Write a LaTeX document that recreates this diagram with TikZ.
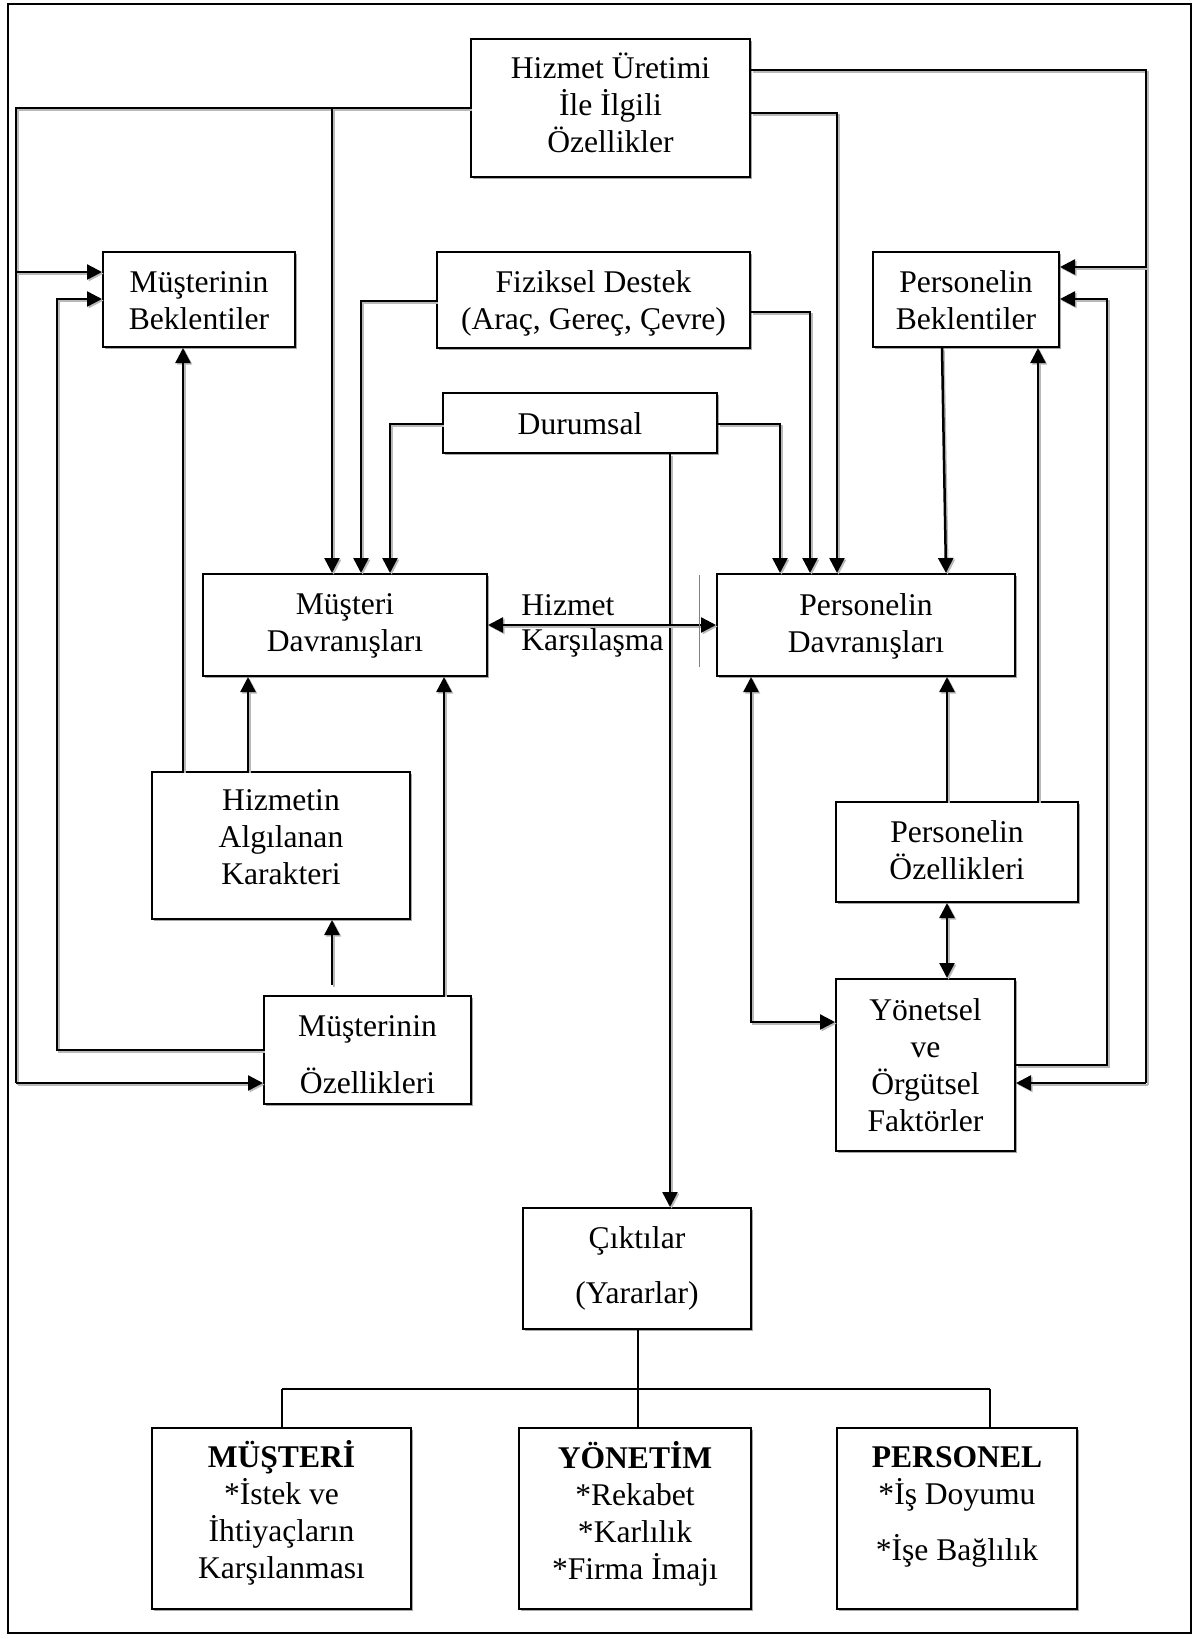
\documentclass[tikz,border=0pt]{standalone}
\usepackage{fontspec}
\setmainfont{Liberation Serif}
\usetikzlibrary{arrows.meta,fit,shadows}
\newcommand{\boxfont}{\fontsize{15.8pt}{18.5pt}\selectfont}

\begin{document}
\begin{tikzpicture}[x=0.5pt,y=-0.5pt,
  box/.style={draw, line width=1pt, fill=white, inner sep=0pt,
    drop shadow={shadow xshift=0.9pt, shadow yshift=-0.9pt, fill=gray!70, opacity=1}},
  txt/.style={inner sep=0pt, align=center, font=\boxfont},
  wire/.style={line width=1.25pt,
    preaction={draw=gray!55, line width=1.1pt, transform canvas={xshift=0.8pt,yshift=-0.8pt}}},
  arr/.style={wire, -{Triangle[length=7.5pt,width=7.5pt]}},
  arrr/.style={wire, {Triangle[length=7.5pt,width=7.5pt]}-{Triangle[length=7.5pt,width=7.5pt]}},
  tree/.style={line width=0.9pt},
  treev/.style={line width=0.7pt},
  lab/.style={inner sep=0pt, align=left, font=\fontsize{15.8pt}{17.5pt}\selectfont},
]
\useasboundingbox (0,0) rectangle (1202,1639);
\draw[line width=0.75pt] (8,4) rectangle (1191,1633);

% boxes
\node[box, fit={(471,39) (750,177)}] (hiz) {};
\node[box, fit={(103,252) (295,347)}] (mbek) {};
\node[box, fit={(437,252) (750,348)}] (fiz) {};
\node[box, fit={(873,252) (1059,347)}] (pbek) {};
\node[box, fit={(443,393) (717,453)}] (dur) {};
\node[box, fit={(203,574) (487,676)}] (mdav) {};
\node[box, fit={(717,574) (1015,676)}] (pdav) {};
\node[box, fit={(152,772) (410,919)}] (hak) {};
\node[box, fit={(264,996) (471,1104)}] (mozel) {};
\node[box, fit={(836,802) (1078,902)}] (pozel) {};
\node[box, fit={(836,979) (1015,1151)}] (yon) {};
\node[box, fit={(523,1208) (751,1329)}] (cik) {};
\node[box, fit={(152,1428) (411,1609)}] (bm) {};
\node[box, fit={(519,1428) (751,1609)}] (by) {};
\node[box, fit={(837,1428) (1077,1609)}] (bp) {};

% box texts
\node[txt] (hizT) at ([yshift=2.6pt]hiz.center) {Hizmet Üretimi\\İle İlgili\\Özellikler};
\node[txt] (mbekT) at ([yshift=-0.5pt]mbek.center) {Müşterinin\\Beklentiler};
\node[txt] (fizT) at ([yshift=-1.6pt]fiz.center) {Fiziksel Destek\\(Araç, Gereç, Çevre)};
\node[txt] (pbekT) at ([yshift=-0.5pt]pbek.center) {Personelin\\Beklentiler};
\node[txt] (durT) at ([yshift=-0.5pt]dur.center) {Durumsal};
\node[txt] (mdavT) at ([yshift=-0.4pt]mdav.center) {Müşteri\\Davranışları};
\node[txt] (pdavT) at ([yshift=-0.8pt]pdav.center) {Personelin\\Davranışları};
\node[txt] (hakT) at ([yshift=4.2pt]hak.center) {Hizmetin\\Algılanan\\Karakteri};
\node[txt] (mozelT) at ([yshift=-2.1pt]mozel.center) {Müşterinin\\[10pt]Özellikleri};
\node[txt] (pozelT) at ([yshift=1.1pt]pozel.center) {Personelin\\Özellikleri};
\node[txt] (yonT) at (yon.center) {Yönetsel\\ve\\Örgütsel\\Faktörler};
\node[txt] (cikT) at ([yshift=0.2pt]cik.center) {Çıktılar\\[9pt](Yararlar)};
\node[txt] (bmT) at ([yshift=2.6pt]bm.center) {\textbf{MÜŞTERİ}\\{}*İstek ve\\İhtiyaçların\\Karşılanması};
\node[txt] (byT) at ([yshift=2.3pt]by.center) {\textbf{YÖNETİM}\\{}*Rekabet\\{}*Karlılık\\{}*Firma İmajı};
\node[txt, anchor=north] (bpT) at ([yshift=-9.6pt]bp.north) {\textbf{PERSONEL}\\{}*İş Doyumu\\[9.5pt]{}*İşe Bağlılık};

\node[lab, anchor=west] (hk) at ([yshift=-1.5pt]521,623) {Hizmet\\Karşılaşma};

% left bus from the production box
\coordinate (lbT) at (16,108);
\coordinate (lbB) at (16,1083);
\coordinate (lbM) at (16,272);
\coordinate (b332) at (332,108);
\draw[wire] (hiz.west) -- (lbT) -- (lbB);
\draw[arr] (lbB) -- (mozel.west |- lbB);
\draw[arr] (lbM) -- (mbek.west |- lbM);
\draw[arr] (b332) -- (mdav.north -| b332);

% right bus from the production box
\coordinate (rbT) at (1146,70);
\coordinate (rbB) at (1146,1083);
\coordinate (rbM) at (1146,267);
\draw[wire] (hiz.east |- rbT) -- (rbT) -- (rbB);
\draw[arr] (rbB) -- (yon.east |- rbB);
\draw[arr] (rbM) -- (pbek.east |- rbM);

\coordinate (h3) at (837,113);
\draw[arr] (hiz.east |- h3) -- (h3) -- (pdav.north -| h3);

% physical support and situational factors
\coordinate (f4) at (361,301);
\draw[arr] (fiz.west |- f4) -- (f4) -- (mdav.north -| f4);
\coordinate (f5) at (810,312);
\draw[arr] (fiz.east |- f5) -- (f5) -- (pdav.north -| f5);
\coordinate (d6) at (390,424);
\draw[arr] (dur.west |- d6) -- (d6) -- (mdav.north -| d6);
\coordinate (d7) at (780,424);
\draw[arr] (dur.east |- d7) -- (d7) -- (pdav.north -| d7);
\coordinate (d8) at (670,453);
\draw[arr] (dur.south -| d8) -- (cik.north -| d8);

% service encounter
\draw[arrr] (mdav.east) -- (pdav.west);
\coordinate (t1) at (699,575);
\coordinate (t2) at (699,667);
\draw[gray, line width=0.4pt] (t1) -- (t2);

% customer side
\draw[arr] (hak.north -| 183,0) -- (mbek.south -| 183,0);
\draw[arr] (hak.north -| 248,0) -- (mdav.south -| 248,0);
\draw[arr] (mozel.north -| 444,0) -- (mdav.south -| 444,0);
\coordinate (m14) at (332,985);
\draw[arr] (m14) -- (hak.south -| m14);
\coordinate (m15) at (57,1050);
\coordinate (m15t) at (57,299);
\draw[arr] (mozel.west |- m15) -- (m15) -- (m15t) -- (mbek.west |- m15t);

% personnel side
\draw[arr] (pbek.south -| 942,0) -- (pdav.north -| 946,0);
\draw[arr] (pozel.north -| 1038,0) -- (pbek.south -| 1038,0);
\draw[arr] (pozel.north -| 947,0) -- (pdav.south -| 947,0);
\coordinate (y18) at (751,1022);
\draw[arrr] (pdav.south -| y18) -- (y18) -- (yon.west |- y18);
\draw[arrr] (pozel.south -| 947,0) -- (yon.north -| 947,0);
\coordinate (y20) at (1107,1065);
\coordinate (y20t) at (1107,299);
\draw[arr] (yon.east |- y20) -- (y20) -- (y20t) -- (pbek.east |- y20t);

% outcomes tree
\coordinate (tr) at (638,1389);
\coordinate (trL) at (282,1389);
\coordinate (trR) at (990,1389);
\draw[treev] (cik.south -| tr) -- (by.north -| tr);
\draw[tree] (trL) -- (trR);
\draw[treev] (trL) -- (bm.north -| trL);
\draw[treev] (trR) -- (bp.north -| trR);
\end{tikzpicture}
\end{document}
